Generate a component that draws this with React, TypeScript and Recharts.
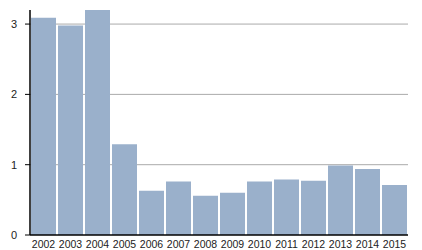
import React from "react";
import { BarChart, Bar, XAxis, YAxis, CartesianGrid } from "recharts";

const years = ["2002","2003","2004","2005","2006","2007","2008","2009","2010","2011","2012","2013","2014","2015"];
const values = [3.09, 2.98, 3.2, 1.29, 0.63, 0.76, 0.56, 0.6, 0.76, 0.79, 0.77, 0.99, 0.94, 0.71];
const yTicks = [0, 1, 2, 3];
const gridValues = [1, 2, 3];

const data = years.map((y, i) => ({ year: y, value: values[i] }));

export default function App() {
  return (
    <div style={{ position: "absolute", left: 0, top: 0 }}>
      <BarChart
        width={422}
        height={250}
        data={data}
        margin={{ top: 10, right: 14, left: 0, bottom: 0 }}
        barCategoryGap={1}
        style={{ fontFamily: "Liberation Sans, Arial, sans-serif" }}
      >
        <CartesianGrid vertical={false} horizontalValues={gridValues} stroke="#aaaaaa" strokeWidth={1} />
        <XAxis
          dataKey="year"
          height={15}
          tickLine={false}
          axisLine={{ stroke: "#000", strokeWidth: 1.5 }}
          tick={{ fill: "#222", fontSize: 10.5 }}
          tickMargin={0}
          interval={0}
        />
        <YAxis
          width={30}
          domain={[0, 3.2]}
          ticks={yTicks}
          allowDataOverflow
          axisLine={{ stroke: "#000", strokeWidth: 1.5 }}
          tickLine={{ stroke: "#000" }}
          tickSize={5}
          tickMargin={8}
          tick={{ fill: "#222", fontSize: 11 }}
        />
        <Bar dataKey="value" fill="#9ab0cb" isAnimationActive={false} />
      </BarChart>
    </div>
  );
}
